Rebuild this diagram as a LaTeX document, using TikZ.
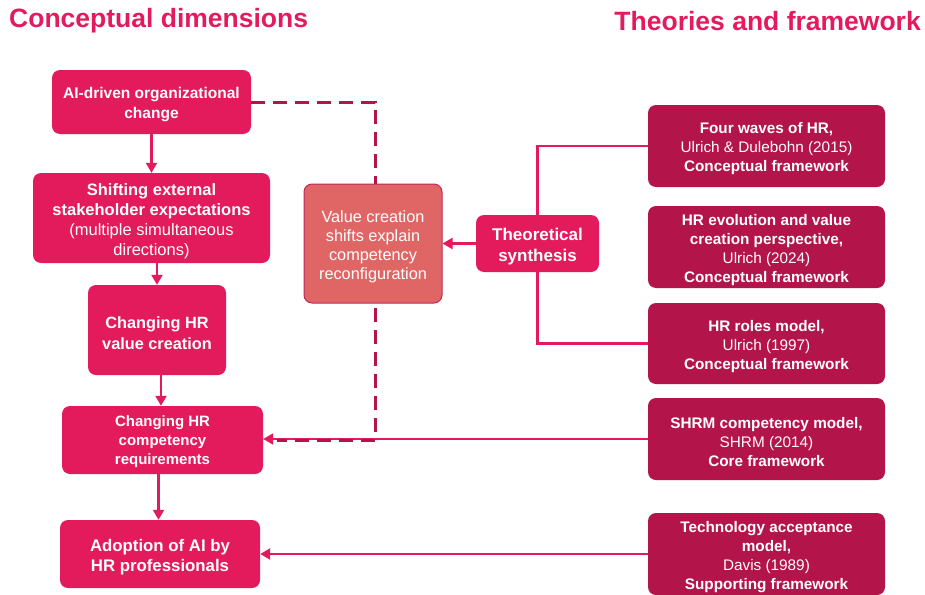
\documentclass[tikz,border=0pt]{standalone}
\usepackage{fontspec}
\setmainfont{Liberation Sans}
\usetikzlibrary{arrows.meta,backgrounds}
\definecolor{flowpink}{HTML}{E31A5C}
\definecolor{theorycrimson}{HTML}{B3144A}
\definecolor{salmonbox}{HTML}{E06666}
\definecolor{salmonedge}{HTML}{C2275A}
\newcommand{\boxfont}[2]{\fontsize{#1}{#2}\selectfont}
\tikzset{
  box/.style={rounded corners=8pt, inner sep=0pt},
  flowbox/.style={box, fill=flowpink},
  theorybox/.style={box, fill=theorycrimson, minimum width=237pt, minimum height=82pt},
  sumbox/.style={box, fill=salmonbox, draw=salmonedge, line width=1pt},
  boxtext/.style={align=center, text=white, inner sep=0pt, font=\boxfont{15.3}{19}},
  arr/.style={draw=flowpink, line width=2.2pt, -{Triangle[length=10pt,width=11pt]}},
  plainline/.style={draw=flowpink, line width=2.2pt},
  dashlink/.style={draw=theorycrimson, line width=3pt, dash pattern=on 14pt off 8pt},
  heading/.style={text=flowpink, font=\fontsize{26.5}{30}\selectfont\bfseries, inner sep=0pt}
}
\begin{document}
\begin{tikzpicture}[x=1pt,y=-1pt]
\useasboundingbox (0,0) rectangle (925,594);

% headings
\node[heading, anchor=west] (hleft) at (9,21) {Conceptual dimensions};
\node[heading, anchor=east] (hright) at (921,21) {Theories and framework};

% conceptual chain: shapes
\node[flowbox, minimum width=199pt, minimum height=64pt] (ai) at (151.5,102) {};
\node[flowbox, minimum width=237pt, minimum height=90pt] (shift) at (151.5,218) {};
\node[flowbox, minimum width=138pt, minimum height=90pt] (valcr) at (157,330) {};
\node[flowbox, minimum width=201pt, minimum height=68pt] (comp) at (162.5,440) {};
\node[flowbox, minimum width=200pt, minimum height=68pt] (adopt) at (160,554) {};
% conceptual chain: texts
\node[boxtext, font=\boxfont{15.5}{20}] (ai-t) at ([yshift=-3pt]ai.center)
  {\bfseries AI-driven organizational\\\bfseries change};
\node[boxtext, font=\boxfont{16.5}{20}] (shift-t) at ([yshift=-3pt]shift.center)
  {\bfseries Shifting external\\\bfseries stakeholder expectations\\(multiple simultaneous\\directions)};
\node[boxtext, font=\boxfont{16.3}{21.5}] (valcr-t) at ([yshift=-3pt]valcr.center)
  {\bfseries Changing HR\\\bfseries value creation};
\node[boxtext, font=\boxfont{15}{19}] (comp-t) at ([yshift=-2pt]comp.center)
  {\bfseries Changing HR\\\bfseries competency\\\bfseries requirements};
\node[boxtext, font=\boxfont{16.8}{20}] (adopt-t) at ([yshift=-3pt]adopt.center)
  {\bfseries Adoption of AI by\\\bfseries HR professionals};

% synthesis
\node[sumbox, minimum width=138pt, minimum height=119pt] (vc) at (373,243.5) {};
\node[boxtext, font=\boxfont{16.3}{19}] (vc-t) at ([yshift=-3pt]vc.center)
  {Value creation\\shifts explain\\competency\\reconfiguration};
\node[flowbox, minimum width=123pt, minimum height=57pt] (synth) at (537.5,243.5) {};
\node[boxtext, font=\boxfont{17}{21.5}] (synth-t) at ([yshift=-3pt]synth.center)
  {\bfseries Theoretical\\\bfseries synthesis};

% theories
\node[theorybox] (r1) at (766.5,146) {};
\node[theorybox] (r2) at (766.5,247) {};
\node[theorybox, minimum height=81pt] (r3) at (766.5,343.5) {};
\node[theorybox] (r4) at (766.5,439) {};
\node[theorybox] (r5) at (766.5,554) {};
\node[boxtext] (r1-t) at ([yshift=-3pt]r1.center)
  {\bfseries Four waves of HR,\\Ulrich \& Dulebohn (2015)\\\bfseries Conceptual framework};
\node[boxtext] (r2-t) at ([yshift=-3pt]r2.center)
  {\bfseries HR evolution and value\\\bfseries creation perspective,\\Ulrich (2024)\\\bfseries Conceptual framework};
\node[boxtext] (r3-t) at ([yshift=-3pt]r3.center)
  {\bfseries HR roles model,\\Ulrich (1997)\\\bfseries Conceptual framework};
\node[boxtext] (r4-t) at ([yshift=-3pt]r4.center)
  {\bfseries SHRM competency model,\\SHRM (2014)\\\bfseries Core framework};
\node[boxtext] (r5-t) at ([yshift=-3pt]r5.center)
  {\bfseries Technology acceptance\\\bfseries model,\\Davis (1989)\\\bfseries Supporting framework};

% connectors
\begin{scope}[on background layer]
  \draw[arr] (r4.west) -- (r4.west -| comp.east);
  \draw[dashlink] (ai.east) -- (ai.east -| 375,0) coordinate (dturn)
    -- (dturn |- comp.east) coordinate (dlow) -- ([xshift=14pt]comp.east);
\end{scope}
\draw[arr] (ai) -- (shift);
\draw[arr] (valcr.north |- shift.south) -- (valcr.north);
\draw[arr] ([xshift=4pt]valcr.south) -- ([xshift=4pt]valcr.south |- comp.north);
\draw[arr] ([xshift=-4pt]comp.south) -- ([xshift=-4pt]comp.south |- adopt.north);
\draw[arr] (synth.west) -- (vc.east);
\draw[plainline] (synth.north) |- (r1.west);
\draw[plainline] (synth.south) |- (r3.west);
\draw[arr] (r5.west) -- (adopt.east);
\end{tikzpicture}
\end{document}
